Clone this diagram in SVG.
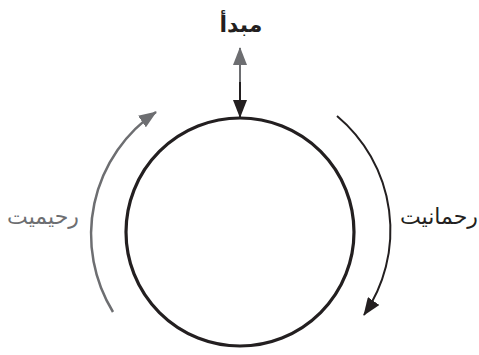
<svg xmlns="http://www.w3.org/2000/svg" width="479" height="355" viewBox="0 0 479 355">
<style>
.lbl{font-family:"DejaVu Sans",sans-serif;font-size:22px;text-anchor:middle}
</style>
<defs>
<marker id="ag" viewBox="0 0 18 14" refX="17" refY="7" markerWidth="18" markerHeight="14" markerUnits="userSpaceOnUse" orient="auto"><path d="M0,0 L18,7 L0,14 z" fill="#6d6e71"/></marker>
<marker id="ak" viewBox="0 0 18 14" refX="17" refY="7" markerWidth="18" markerHeight="14" markerUnits="userSpaceOnUse" orient="auto"><path d="M0,0 L18,7 L0,14 z" fill="#231f20"/></marker>
</defs>
<rect width="479" height="355" fill="#fff"/>
<g id="cycle"><circle cx="240" cy="232" r="114" fill="none" stroke="#231f20" stroke-width="3.2"/></g>
<g id="start"><text class="lbl" x="241" y="32" font-weight="bold" fill="#231f20">مبدأ</text></g>
<g id="rahimiyyat"><text class="lbl" x="43" y="224" fill="#6d6e71">رحيميت</text></g>
<g id="rahmaniyyat"><text class="lbl" x="439" y="224" fill="#231f20">رحمانيت</text></g>
<g id="connectors">
<line x1="240" y1="84" x2="240" y2="48" stroke="#6d6e71" stroke-width="2" marker-end="url(#ag)"/>
<line x1="240" y1="82" x2="240" y2="117" stroke="#231f20" stroke-width="2" marker-end="url(#ak)"/>
<path d="M113,312 A148,148 0 0 1 156,112" fill="none" stroke="#6d6e71" stroke-width="2.5" marker-end="url(#ag)"/>
<path d="M337,116 A149,149 0 0 1 364,315" fill="none" stroke="#231f20" stroke-width="2" marker-end="url(#ak)"/>
</g>
</svg>
